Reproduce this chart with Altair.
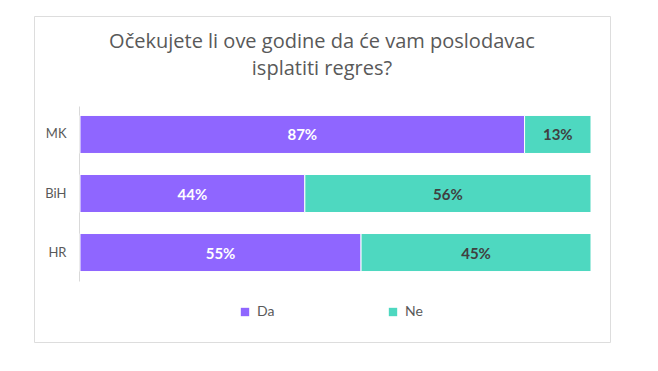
import altair as alt
import pandas as pd

countries = ["MK", "BiH", "HR"]
answers = ["Da", "Ne"]
da_values = [87, 44, 55]
ne_values = [13, 56, 45]
title_lines = ["Očekujete li ove godine da će vam poslodavac", "isplatiti regres?"]
colors = ["#8F66FF", "#4ED8C0"]

rows = []
for c, d, n in zip(countries, da_values, ne_values):
    rows.append({"country": c, "answer": "Da", "value": d, "ord": 0})
    rows.append({"country": c, "answer": "Ne", "value": n, "ord": 1})
df = pd.DataFrame(rows)

FONT = "Lato"
TFONT = "Open Sans"
W, H = 576, 326

xscale = alt.Scale(domain=[0, 100], range=[46, 557], nice=False, zero=True)
yscale = alt.Scale(domain=countries, range=[90, 265], paddingInner=0.356, paddingOuter=0.16)

base = alt.Chart(df)

bars = base.mark_bar(stroke="white", strokeWidth=1).encode(
    x=alt.X("value:Q", stack="zero", scale=xscale, axis=None),
    y=alt.Y("country:N", scale=yscale, sort=countries,
            axis=alt.Axis(title=None, offset=-45, ticks=False, labelPadding=13,
                          labelFontSize=13, labelColor="#595959", labelFont=FONT,
                          domainColor="#d9d9d9", grid=False)),
    color=alt.Color("answer:N", scale=alt.Scale(domain=answers, range=colors),
                    legend=alt.Legend(title=None, orient="none", legendX=204, legendY=289,
                                      direction="horizontal", columnPadding=111,
                                      symbolType="square", symbolSize=70, symbolStrokeWidth=0,
                                      labelFontSize=14, labelColor="#595959", labelFont=FONT,
                                      labelOffset=5)),
    order=alt.Order("ord:Q"),
)

labels = base.transform_stack(
    stack="value", groupby=["country"], as_=["v0", "v1"], sort=[alt.SortField("ord", "ascending")]
).transform_calculate(
    mid="(datum.v0 + datum.v1) / 2",
    label="datum.value + '%'",
).mark_text(font=FONT, fontSize=15, fontWeight="bold", baseline="middle", dy=1).encode(
    x=alt.X("mid:Q", scale=xscale, axis=None),
    y=alt.Y("country:N", scale=yscale, sort=countries),
    text="label:N",
    color=alt.condition(alt.datum.answer == "Da", alt.value("white"), alt.value("#404040")),
)

title = alt.Chart(pd.DataFrame({"t": ["\n".join(title_lines)]})).mark_text(
    font=TFONT, fontSize=20, color="#595959", lineBreak="\n", lineHeight=27,
    align="center", baseline="alphabetic"
).encode(x=alt.value(W / 2), y=alt.value(32), text="t:N")

chart = alt.layer(bars, labels, title).properties(
    width=W, height=H,
    padding={"left": 26, "top": 8, "right": 4, "bottom": 4},
    autosize=alt.AutoSizeParams(type="none"),
).configure_view(stroke="#d9d9d9", strokeWidth=1).configure(background="white")

chart.save("out.html", embed_options={"renderer": "svg", "actions": False})
